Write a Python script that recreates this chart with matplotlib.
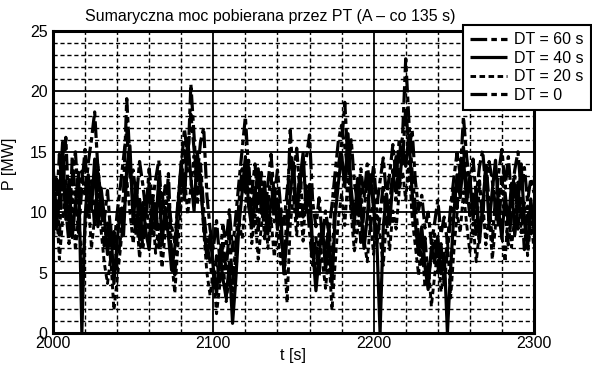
import numpy as np
import matplotlib
matplotlib.use("Agg")
import matplotlib.pyplot as plt
from matplotlib.ticker import MultipleLocator

plt.rcParams['font.family'] = ['Liberation Sans', 'DejaVu Sans']
plt.rcParams['lines.scale_dashes'] = False

# time axis: one sample every 2 s
t_start, t_step = 2000, 2

p_dt60 = [
    9.5, 12.8, 8.1, 13.5, 10.2, 7.4, 14.6, 11.0, 8.3, 12.1,
    15.2, 9.8, 12.6, 8.7, 13.9, 10.4, 7.2, 9.1, 6.0, 8.4,
    5.3, 7.8, 11.6, 19.4, 14.2, 10.5, 8.0, 11.3, 6.9, 9.7,
    12.4, 8.2, 10.9, 7.1, 11.8, 9.0, 13.2, 6.4, 4.8, 9.3,
    12.7, 15.1, 13.4, 20.6, 16.3, 11.5, 14.0, 10.2, 7.3, 5.9,
    3.8, 6.4, 4.2, 7.7, 5.1, 8.6, 3.9, 7.2, 10.8, 13.6,
    11.4, 14.3, 9.6, 12.2, 8.5, 11.9, 7.8, 10.6, 13.1, 9.2,
    11.7, 8.0, 6.2, 9.5, 16.8, 12.1, 10.3, 13.4, 9.6, 11.8,
    8.4, 5.6, 7.9, 4.7, 8.8, 6.1, 9.2, 5.0, 11.3, 13.8,
    15.6, 19.1, 14.0, 10.7, 8.3, 11.6, 7.5, 10.1, 12.8, 8.6,
    11.2, 7.4, 9.8, 12.3, 8.9, 10.6, 13.5, 11.0, 14.8, 16.2,
    22.7, 17.5, 13.2, 10.4, 8.1, 5.7, 7.9, 4.6, 6.3, 8.2,
    5.0, 7.4, 4.1, 6.8, 9.5, 12.0, 10.3, 13.9, 15.4, 12.2,
    9.7, 11.5, 8.0, 12.6, 9.3, 14.1, 10.8, 7.6, 11.2, 8.7,
    12.9, 10.0, 7.3, 9.9, 13.0, 8.6, 11.4, 6.9, 10.5, 8.2,
    9.6,
]

p_dt40 = [
    12.0, 8.6, 11.3, 15.8, 9.4, 12.7, 7.9, 10.8, 13.3, 0.0,
    9.6, 13.1, 10.2, 14.4, 8.8, 12.0, 9.7, 6.5, 8.9, 4.1,
    7.6, 10.3, 8.1, 13.7, 15.5, 9.1, 12.4, 7.7, 10.8, 8.3,
    6.9, 11.1, 8.6, 12.9, 7.3, 10.4, 8.0, 5.2, 7.1, 10.6,
    14.2, 11.0, 16.1, 12.8, 10.1, 15.0, 12.3, 9.0, 6.2, 8.1,
    5.4, 3.2, 6.7, 4.5, 2.9, 5.8, 0.8, 4.4, 8.9, 11.7,
    14.6, 10.5, 8.7, 11.4, 13.6, 9.9, 12.5, 8.2, 10.9, 12.0,
    8.6, 10.2, 4.9, 8.0, 11.5, 14.1, 9.5, 12.6, 14.9, 10.0,
    12.3, 6.9, 3.5, 6.4, 9.0, 5.2, 7.7, 4.0, 9.7, 12.4,
    14.8, 12.1, 16.5, 11.9, 9.2, 12.8, 10.4, 7.0, 9.6, 13.1,
    10.2, 7.6, 0.0, 8.8, 11.5, 9.0, 12.7, 14.6, 12.0, 15.3,
    13.8, 16.4, 11.6, 9.1, 6.5, 8.8, 5.5, 3.6, 7.1, 5.8,
    8.0, 4.9, 6.6, 0.0, 5.3, 9.8, 13.1, 11.2, 14.5, 10.8,
    13.0, 9.4, 11.9, 7.5, 10.6, 13.7, 8.9, 11.8, 14.3, 10.1,
    7.8, 11.6, 9.0, 12.4, 8.1, 10.7, 14.0, 9.3, 7.0, 11.1,
    8.4,
]

p_dt20 = [
    7.2, 10.9, 6.1, 9.3, 12.6, 8.0, 11.7, 6.8, 9.9, 5.6,
    8.4, 11.2, 7.0, 9.6, 12.3, 8.5, 5.8, 4.1, 6.3, 1.9,
    4.4, 6.9, 9.5, 12.8, 10.0, 7.4, 9.8, 6.2, 8.7, 11.4,
    7.9, 10.2, 6.6, 9.1, 5.4, 8.3, 10.7, 6.0, 3.3, 7.4,
    10.9, 13.2, 9.8, 12.1, 14.7, 10.6, 13.1, 8.4, 5.0, 3.1,
    5.2, 1.6, 3.9, 6.1, 2.6, 4.8, 3.0, 6.5, 9.3, 7.8,
    10.6, 12.9, 7.4, 9.8, 6.1, 8.9, 11.3, 7.0, 9.5, 6.3,
    8.8, 5.7, 7.2, 2.5, 9.0, 11.4, 8.1, 10.9, 7.6, 12.2,
    9.9, 7.3, 5.0, 8.2, 6.0, 3.7, 6.6, 1.9, 5.8, 9.4,
    11.6, 8.9, 13.0, 9.7, 6.8, 8.5, 11.9, 7.7, 5.9, 9.2,
    6.5, 10.3, 7.9, 5.6, 9.4, 6.9, 10.1, 8.6, 11.8, 13.4,
    11.0, 14.2, 9.5, 7.2, 4.8, 7.6, 3.8, 5.9, 2.2, 4.7,
    6.9, 3.4, 5.2, 7.8, 2.9, 6.7, 9.9, 8.3, 11.7, 9.0,
    6.7, 9.1, 5.9, 8.4, 11.0, 7.3, 9.8, 6.1, 8.9, 12.0,
    8.0, 5.9, 10.4, 7.1, 9.6, 12.5, 8.3, 10.8, 6.4, 9.2,
    7.0,
]

p_dt0 = [
    13.9, 10.1, 14.8, 11.6, 16.2, 9.7, 12.9, 15.0, 10.5, 13.4,
    11.3, 14.1, 16.0, 18.3, 13.6, 11.0, 9.4, 11.8, 8.2, 7.0,
    9.9, 12.1, 14.5, 16.8, 12.9, 13.5, 11.0, 14.2, 12.3, 10.0,
    13.6, 10.8, 12.7, 14.3, 9.9, 12.2, 11.0, 8.8, 7.5, 11.0,
    13.8, 16.9, 14.6, 18.1, 15.2, 13.0, 15.8, 17.0, 11.4, 8.6,
    7.0, 9.3, 6.1, 8.9, 7.4, 10.2, 6.8, 9.7, 12.5, 15.2,
    17.9, 13.4, 11.6, 14.0, 10.7, 13.3, 9.4, 12.3, 14.8, 11.2,
    13.5, 10.4, 9.0, 11.7, 14.6, 12.9, 15.3, 11.7, 13.8, 14.5,
    16.4, 10.8, 8.8, 11.2, 7.6, 10.1, 8.3, 10.6, 13.3, 15.9,
    17.2, 15.4, 13.5, 16.0, 12.4, 10.8, 13.6, 11.2, 14.0, 11.7,
    13.9, 10.5, 12.6, 14.5, 11.3, 13.2, 15.6, 12.8, 16.1, 14.0,
    18.7, 15.2, 16.8, 12.6, 10.2, 11.4, 8.7, 10.0, 7.4, 9.1,
    11.0, 8.2, 9.6, 7.5, 10.4, 12.8, 14.9, 13.1, 17.9, 14.6,
    12.1, 14.4, 11.3, 13.8, 15.1, 11.9, 14.2, 12.6, 10.4, 13.3,
    15.2, 12.0, 14.6, 11.1, 13.5, 15.0, 11.8, 13.7, 10.9, 12.8,
    11.6,
]

labels = ["DT = 60 s", "DT = 40 s", "DT = 20 s", "DT = 0"]
x_ticks = [2000, 2100, 2200, 2300]
y_ticks = [0, 5, 10, 15, 20, 25]

t = t_start + t_step * np.arange(len(p_dt60))

fig = plt.figure(figsize=(5.92, 3.67), dpi=100)
ax = fig.add_axes([0.0895, 0.0926, 0.8125, 0.8229])

styles = [
    dict(linestyle=(0, (12, 3, 4, 3)), linewidth=2.3),
    dict(linestyle='-', linewidth=2.3),
    dict(linestyle=(0, (4, 2.5)), linewidth=2.1),
    dict(linestyle=(0, (12, 3, 4, 3)), linewidth=2.3),
]
series = [p_dt60, p_dt40, p_dt20, p_dt0]
handles = []
for vals, lab, st in zip(series, labels, styles):
    h, = ax.plot(t, vals, color='black', label=lab, solid_capstyle='butt',
                 dash_capstyle='butt', zorder=3, **st)
    handles.append(h)

ax.set_xlim(2000, 2300)
ax.set_ylim(0, 25)
ax.set_xticks(x_ticks)
ax.set_yticks(y_ticks)
ax.xaxis.set_minor_locator(MultipleLocator(20))
ax.yaxis.set_minor_locator(MultipleLocator(1))
ax.grid(which='major', color='black', linewidth=1.3, linestyle='-')
ax.grid(which='minor', color='black', linewidth=1.0, linestyle=(0, (3, 2)))
ax.set_axisbelow(True)
ax.tick_params(which='both', length=0, labelsize=11.5, colors='black')
ax.tick_params(axis='x', pad=2)
ax.tick_params(axis='y', pad=4)
for sp in ax.spines.values():
    sp.set_linewidth(2.2)
    sp.set_zorder(4)

ax.set_xlabel("t [s]", fontsize=11.5, labelpad=-2)
ax.set_ylabel("P [MW]", fontsize=11.5, labelpad=2)
ax.yaxis.set_label_coords(-0.075, 0.56)
fig.text(270 / 592, 1 - 16 / 367, "Sumaryczna moc pobierana przez PT (A \u2013 co 135 s)",
         ha='center', va='center', fontsize=11.5)

leg = fig.legend(handles=handles, loc='upper left', bbox_to_anchor=(463 / 592, 1 - 25 / 367),
                 fontsize=11.5, handlelength=2.3, handletextpad=0.45, labelspacing=0.22,
                 borderpad=0.45, borderaxespad=0, fancybox=False, framealpha=1,
                 edgecolor='black')
leg.get_frame().set_linewidth(1.5)

fig.savefig("out.png", dpi=100)
